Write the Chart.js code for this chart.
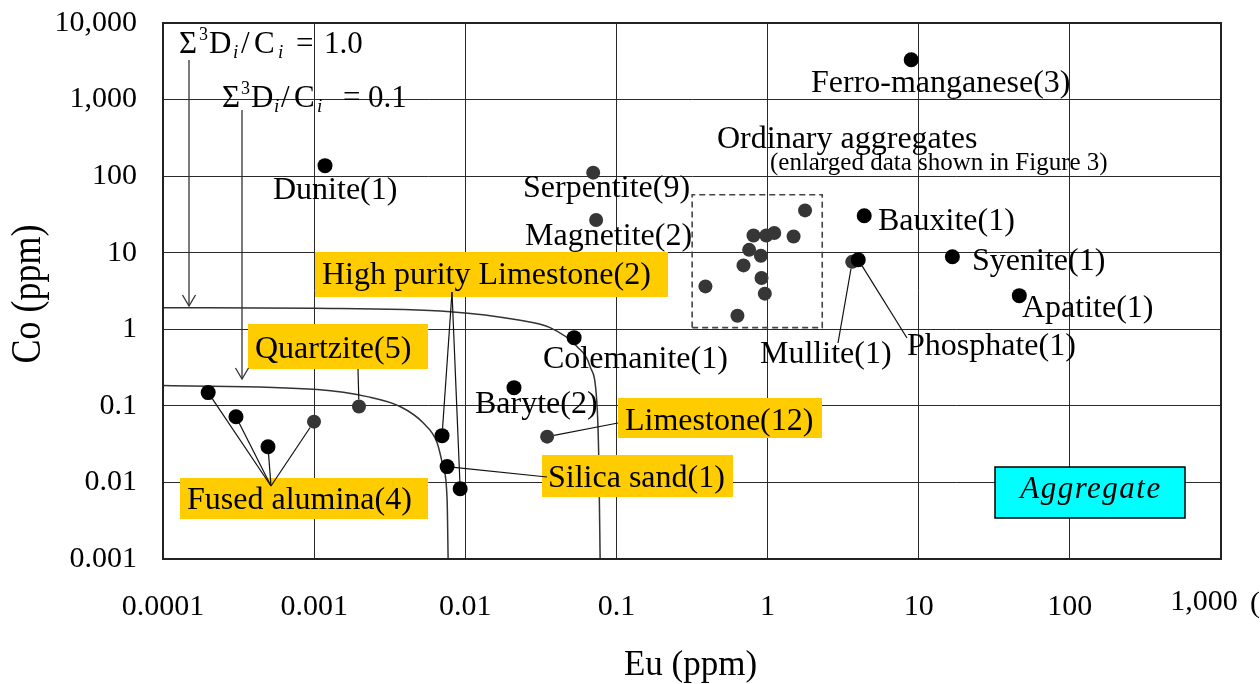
<!DOCTYPE html>
<html><head><meta charset="utf-8">
<script src="https://cdn.jsdelivr.net/npm/chart.js@4.4.1/dist/chart.umd.min.js"></script>
<style>html,body{margin:0;padding:0;background:#fff}canvas{display:block}</style>
</head><body>
<canvas id="c" width="1260" height="684" style="width:1260px;height:684px"></canvas>
<script>
// ---- data ----
const euTicks=[0.0001,0.001,0.01,0.1,1,10,100,1000];
const euTickLabels=['0.0001','0.001','0.01','0.1','1','10','100','1,000'];
const coTicks=[0.001,0.01,0.1,1,10,100,1000,10000];
const coTickLabels=['0.001','0.01','0.1','1','10','100','1,000','10,000'];

const blackNames=['Dunite','Ferro-manganese','Bauxite','Syenite','Apatite','Phosphate','Colemanite','Baryte','High purity Limestone','High purity Limestone','Silica sand','Fused alumina','Fused alumina','Fused alumina'];
const blackEu=[0.00118,8.92,4.36,16.7,46.3,3.98,0.0525,0.0210,0.00702,0.00925,0.00758,0.000199,0.000304,0.000495];
const blackCo=[137,3310,30.4,8.87,2.75,8.1,0.777,0.173,0.0408,0.00828,0.0161,0.149,0.0722,0.0293];

const grayNames=['Serpentite','Magnetite','Mullite','Limestone','Quartzite','Fused alumina'];
const grayEu=[0.0702,0.0734,3.63,0.0348,0.00198,0.000998];
const grayCo=[111,26.8,7.6,0.0396,0.098,0.0622];

const aggEu=[1.77,0.807,0.980,1.107,1.486,0.755,0.903,0.693,0.912,0.388,0.959,0.632];
const aggCo=[35.7,16.8,16.8,18.1,16.3,10.9,9.14,6.83,4.67,3.63,2.92,1.50];

const boxEu=[0.317,2.30,2.30,0.317,0.317];
const boxCo=[1.05,1.05,57.2,57.2,1.05];

const curve1Eu=[0.0001,0.001,0.00794,0.022,0.0364,0.055,0.067,0.0745,0.0766,0.078];
const curve1Co=[1.91,1.88,1.70,1.33,1.05,0.593,0.325,0.098,0.016,0.001];
const curve01Eu=[0.0001,0.00105,0.00224,0.0037,0.00526,0.00651,0.00713,0.00758,0.0077];
const curve01Co=[0.184,0.163,0.132,0.098,0.060,0.033,0.0161,0.006,0.001];

// ---- annotations (layout) ----
const F='"Liberation Serif","Times New Roman",serif';
const labelTexts=[
 ['Dunite(1)',273,199],['Ferro-manganese(3)',811,92],['Ordinary aggregates',717,148],
 ['Serpentite(9)',523,197],['Magnetite(2)',525,245],['Bauxite(1)',878,230],['Syenite(1)',972,270],
 ['Apatite(1)',1022,317],['Phosphate(1)',907,355],['Mullite(1)',760,363],['Colemanite(1)',543,368],
 ['Baryte(2)',475,413],['High purity Limestone(2)',322,284],['Quartzite(5)',255,358],
 ['Fused alumina(4)',187,509],['Silica sand(1)',548,487],['Limestone(12)',625,430]
];
const yellowBoxes=[[315,252,668,297],[248,324,428,369],[180,478,428,519],[618,398,822,438],[542,455,733,497]];
const leaders=[
 {from:[358,369],ds:1,i:4},
 {from:[271,486],ds:0,i:11},{from:[271,486],ds:0,i:12},{from:[271,486],ds:0,i:13},{from:[271,486],ds:1,i:5},
 {from:[452,292],ds:0,i:8},{from:[452,292],ds:0,i:9},
 {from:[547,477],ds:0,i:10},
 {from:[618,423],ds:1,i:3},
 {from:[838,343],ds:1,i:2},
 {from:[907,338],ds:0,i:5}
];

function pts(xs,ys){return xs.map((x,i)=>({x:x,y:ys[i]}));}

function drawSigma(ctx,y,parts){
  for(const p of parts){ctx.font=p[1];ctx.fillText(p[0],p[2],y+p[3]);}
}

const annot={
 id:'annot',
 afterDatasetsDraw(chart){
  const ctx=chart.ctx, ca=chart.chartArea;
  ctx.save();
  ctx.strokeStyle='#222';ctx.lineWidth=2;
  ctx.strokeRect(ca.left,ca.top,ca.right-ca.left,ca.bottom-ca.top);
  ctx.fillStyle='#FFCC00';
  for(const b of yellowBoxes){ctx.fillRect(b[0],b[1],b[2]-b[0],b[3]-b[1]);}
  ctx.fillStyle='#00FFFF';ctx.fillRect(995,467,190,51);
  ctx.strokeStyle='#000';ctx.lineWidth=1.5;ctx.strokeRect(995,467,190,51);
  ctx.strokeStyle='#111';ctx.lineWidth=1.2;
  for(const L of leaders){
    const el=chart.getDatasetMeta(L.ds).data[L.i];
    const r=7;
    const dx=el.x-L.from[0], dy=el.y-L.from[1], d=Math.hypot(dx,dy);
    ctx.beginPath();ctx.moveTo(L.from[0],L.from[1]);
    ctx.lineTo(el.x-dx/d*r,el.y-dy/d*r);ctx.stroke();
  }
  ctx.strokeStyle='#333';ctx.lineWidth=1.3;
  const arrows=[[189,60,306],[242,110,379]];
  for(const a of arrows){
    ctx.beginPath();ctx.moveTo(a[0],a[1]);ctx.lineTo(a[0],a[2]);ctx.stroke();
    ctx.beginPath();ctx.moveTo(a[0]-6.5,a[2]-11);ctx.lineTo(a[0],a[2]);ctx.lineTo(a[0]+6.5,a[2]-11);ctx.stroke();
  }
  ctx.fillStyle='#000';ctx.textBaseline='alphabetic';ctx.textAlign='left';
  ctx.font='32px '+F;
  for(const t of labelTexts){ctx.fillText(t[0],t[1],t[2]);}
  ctx.font='25px '+F;
  ctx.fillText('(enlarged data shown in Figure 3)',770,170);
  ctx.save();
  ctx.font='italic 31px '+F;ctx.textAlign='center';
  try{ctx.letterSpacing='1.5px';}catch(e){}
  ctx.fillText('Aggregate',1091,498);
  ctx.restore();
  ctx.textAlign='left';
  const big='31px '+F, sm='18px '+F, smi='italic 19px '+F;
  drawSigma(ctx,53,[['\u03A3',big,179,0],['3',sm,199,-13],['D',big,209,0],['i',smi,233,5],['/',big,241,0],['C',big,254,0],['i',smi,278,5],['=',big,296,0],['1.0',big,324,0]]);
  drawSigma(ctx,107,[['\u03A3',big,222,0],['3',sm,241,-13],['D',big,251,0],['i',smi,274,5],['/',big,281,0],['C',big,294,0],['i',smi,317,5],['=',big,343,0],['0.1',big,368,0]]);
  ctx.restore();
 },
 afterDraw(chart){
  const ctx=chart.ctx;
  ctx.save();ctx.fillStyle='#000';
  ctx.font='35px '+F;ctx.textAlign='center';ctx.textBaseline='alphabetic';
  ctx.fillText('Eu (ppm)',690.5,675);
  ctx.save();ctx.translate(40,294);ctx.rotate(-Math.PI/2);ctx.scale(1,1.15);
  ctx.font='36px '+F;ctx.textAlign='center';ctx.textBaseline='alphabetic';
  ctx.fillText('Co (ppm)',0,0);ctx.restore();
  // last x tick label sits left of its gridline in the reference
  ctx.font='30px '+F;ctx.textAlign='center';ctx.textBaseline='middle';
  ctx.fillText(euTickLabels[euTickLabels.length-1],1204,602);
  ctx.textAlign='left';
  ctx.fillText('(',1250,604);
  ctx.restore();
 }
};

new Chart(document.getElementById('c'),{
 type:'scatter',
 data:{datasets:[
  {label:'black',data:pts(blackEu,blackCo),pointRadius:7.5,pointHoverRadius:7.5,backgroundColor:'#000',borderWidth:0},
  {label:'gray',data:pts(grayEu,grayCo),pointRadius:7,pointHoverRadius:7,backgroundColor:'#363636',borderWidth:0},
  {label:'agg',data:pts(aggEu,aggCo),pointRadius:7,pointHoverRadius:7,backgroundColor:'#363636',borderWidth:0},
  {label:'box',data:pts(boxEu,boxCo),showLine:true,pointRadius:0,borderColor:'#444',borderWidth:1.6,borderDash:[6,4],fill:false},
  {label:'c1',data:pts(curve1Eu,curve1Co),showLine:true,pointRadius:0,borderColor:'#333',borderWidth:1.5,cubicInterpolationMode:'monotone',fill:false},
  {label:'c01',data:pts(curve01Eu,curve01Co),showLine:true,pointRadius:0,borderColor:'#333',borderWidth:1.5,cubicInterpolationMode:'monotone',fill:false}
 ]},
 options:{
  responsive:false,animation:false,devicePixelRatio:1,events:[],
  layout:{padding:{top:23,right:39,left:0,bottom:0}},
  plugins:{legend:{display:false},tooltip:{enabled:false}},
  scales:{
   x:{type:'logarithmic',min:0.0001,max:1000,
     afterBuildTicks:s=>{s.ticks=euTicks.map(v=>({value:v}));},
     afterFit:s=>{s.height=125;s.paddingLeft=0;s.paddingRight=0;},
     ticks:{callback:(v,i)=>(i===euTicks.length-1?'':euTickLabels[i]),color:'#000',font:{family:F,size:30},padding:30,maxRotation:0,autoSkip:false},
     grid:{color:'#2a2a2a',lineWidth:1,drawTicks:false},
     border:{display:true,color:'#222',width:2}
   },
   y:{type:'logarithmic',min:0.001,max:10000,
     afterBuildTicks:s=>{s.ticks=coTicks.map(v=>({value:v}));},
     afterFit:s=>{s.width=163;s.paddingTop=0;s.paddingBottom=0;},
     ticks:{callback:(v,i)=>coTickLabels[i],color:'#000',font:{family:F,size:30},padding:26,autoSkip:false},
     grid:{color:'#2a2a2a',lineWidth:1,drawTicks:false},
     border:{display:true,color:'#222',width:2}
   }
  }
 },
 plugins:[annot]
});
</script>
</body></html>
